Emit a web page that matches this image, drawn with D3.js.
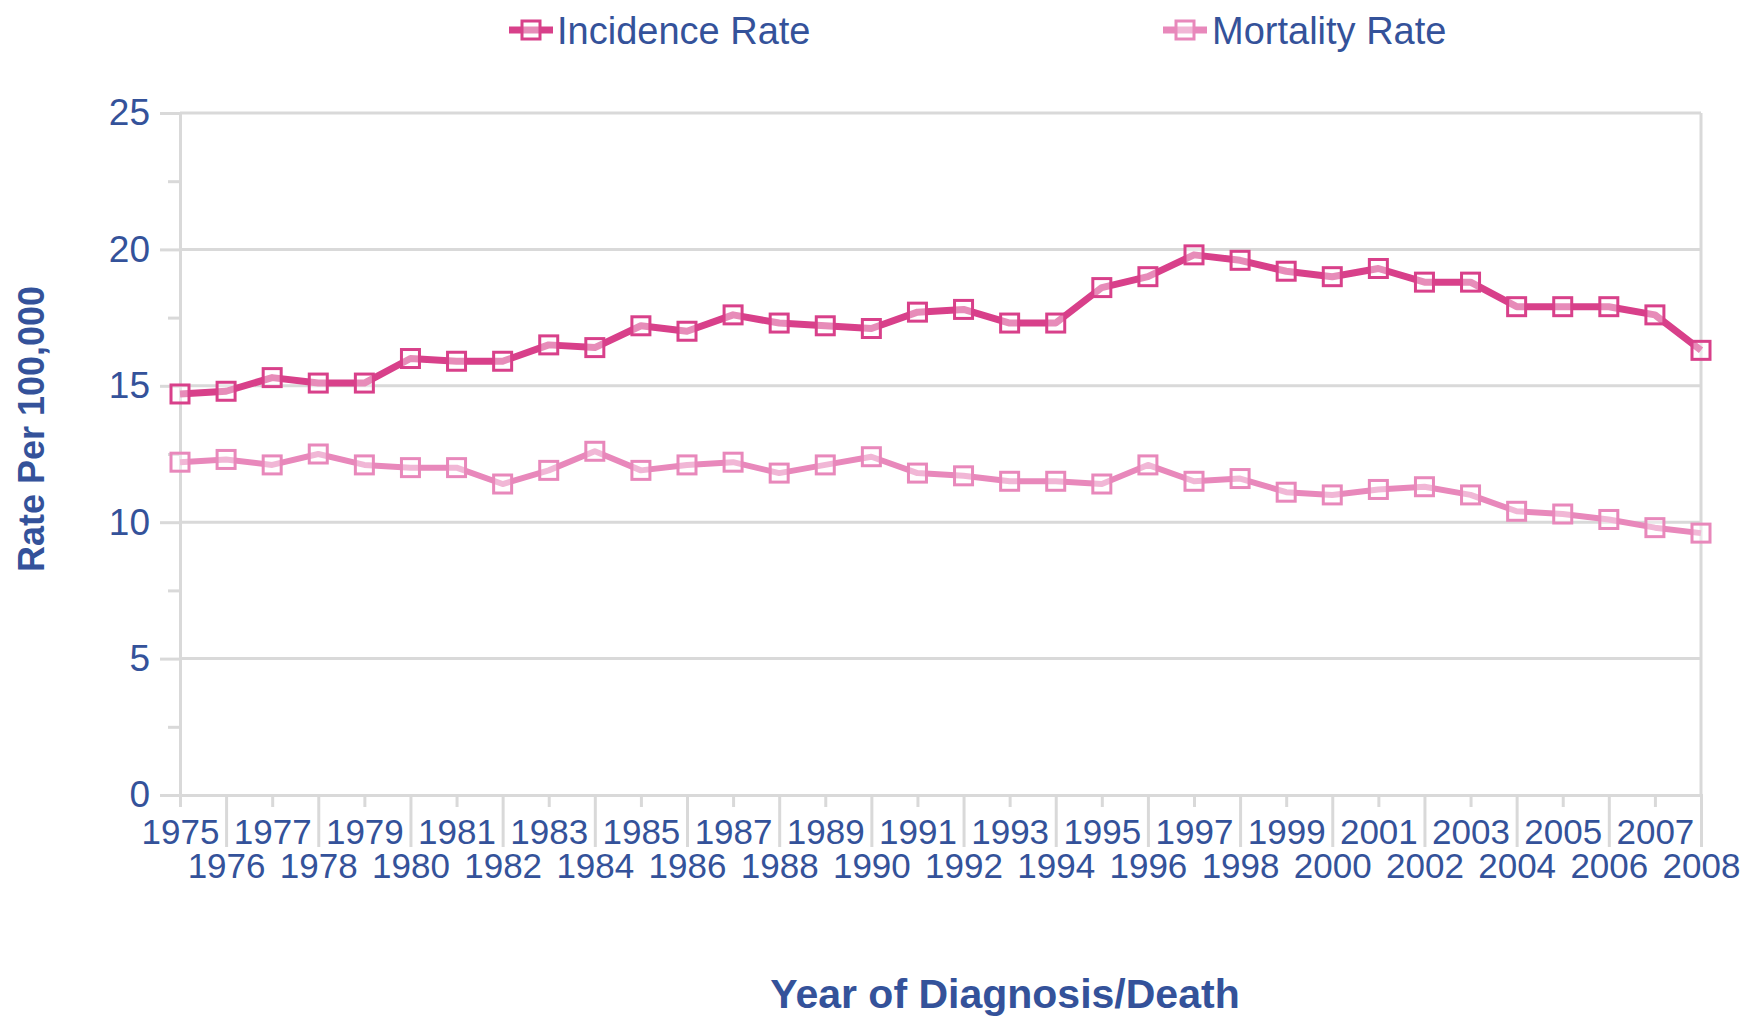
<!DOCTYPE html>
<html>
<head>
<meta charset="utf-8">
<script src="https://cdn.jsdelivr.net/npm/d3@7"></script>
<style>
  html, body { margin: 0; padding: 0; background: #fff; }
  svg { display: block; font-family: "Liberation Sans", Arial, sans-serif; }
</style>
</head>
<body>
<svg id="chart" width="1743" height="1016"></svg>
<script>
const years = [1975,1976,1977,1978,1979,1980,1981,1982,1983,1984,1985,1986,1987,1988,1989,1990,1991,1992,1993,1994,1995,1996,1997,1998,1999,2000,2001,2002,2003,2004,2005,2006,2007,2008];
const incidence = [14.7,14.8,15.3,15.1,15.1,16.0,15.9,15.9,16.5,16.4,17.2,17.0,17.6,17.3,17.2,17.1,17.7,17.8,17.3,17.3,18.6,19.0,19.8,19.6,19.2,19.0,19.3,18.8,18.8,17.9,17.9,17.9,17.6,16.3];
const mortality = [12.2,12.3,12.1,12.5,12.1,12.0,12.0,11.4,11.9,12.6,11.9,12.1,12.2,11.8,12.1,12.4,11.8,11.7,11.5,11.5,11.4,12.1,11.5,11.6,11.1,11.0,11.2,11.3,11.0,10.4,10.3,10.1,9.8,9.6];
const yTicks = [0,5,10,15,20,25];
const yMinorTicks = [2.5,7.5,12.5,17.5,22.5];
const seriesNames = ["Incidence Rate","Mortality Rate"];

const textColor = "#34529a";
const gridColor = "#d9d9d9";
const colors = ["#d8408a", "#e888bb"];

const L = 180, R = 1701, T = 113, B = 795;
const svg = d3.select("#chart");

const x = d3.scalePoint().domain(years).range([L, R]);
const y = d3.scaleLinear().domain([0, 25]).range([B, T]);

// gridlines
svg.append("g").selectAll("line").data(yTicks.filter(d => d > 0)).join("line")
  .attr("x1", L).attr("x2", R)
  .attr("y1", d => y(d)).attr("y2", d => y(d))
  .attr("stroke", gridColor).attr("stroke-width", 3);

// right border
svg.append("line").attr("x1", R).attr("x2", R).attr("y1", T).attr("y2", B)
  .attr("stroke", gridColor).attr("stroke-width", 3);

// y axis
const yAxis = svg.append("g").attr("transform", `translate(${L},0)`)
  .call(d3.axisLeft(y).tickValues(yTicks).tickSize(20).tickPadding(10).tickFormat(d3.format("d")));
yAxis.select(".domain").attr("stroke", gridColor).attr("stroke-width", 3);
yAxis.selectAll(".tick line").attr("stroke", gridColor).attr("stroke-width", 3);
yAxis.selectAll(".tick text").attr("fill", textColor).attr("font-size", 37)
  .attr("font-family", "Liberation Sans, Arial, sans-serif");

// minor ticks
svg.append("g").attr("transform", `translate(${L},0)`)
  .call(d3.axisLeft(y).tickValues(yMinorTicks).tickSize(12).tickFormat(""))
  .call(g => g.select(".domain").remove())
  .selectAll(".tick line").attr("stroke", gridColor).attr("stroke-width", 3);

// x axis
const xAxis = svg.append("g").attr("transform", `translate(0,${B})`)
  .call(d3.axisBottom(x).tickSize(12).tickPadding(6));
xAxis.select(".domain").attr("stroke", gridColor).attr("stroke-width", 3);
xAxis.selectAll(".tick line")
  .attr("stroke", gridColor).attr("stroke-width", 3)
  .attr("y2", (d, i) => (i % 2 === 1 || i === years.length - 1) ? 52 : 12);
xAxis.selectAll(".tick text")
  .attr("fill", textColor).attr("font-size", 35)
  .attr("font-family", "Liberation Sans, Arial, sans-serif")
  .attr("dy", null)
  .attr("y", (d, i) => i % 2 === 0 ? 49 : 83);

// lines and markers
const seriesData = [incidence, mortality];
const line = d3.line().x((d, i) => x(years[i])).y(d => y(d));
seriesData.forEach((vals, s) => {
  const g = svg.append("g");
  g.append("path").datum(vals)
    .attr("fill", "none").attr("stroke", colors[s])
    .attr("stroke-width", s === 0 ? 7 : 6)
    .attr("stroke-linejoin", "round")
    .attr("d", line);
  g.selectAll("rect").data(vals).join("rect")
    .attr("x", (d, i) => x(years[i]) - 9).attr("y", d => y(d) - 9)
    .attr("width", 18).attr("height", 18)
    .attr("fill", "#ffffff").attr("fill-opacity", 0.4)
    .attr("stroke", colors[s]).attr("stroke-width", 3);
});

// legend
const legendItems = [{x: 509, tx: 557}, {x: 1163, tx: 1212}];
legendItems.forEach((it, s) => {
  const g = svg.append("g");
  g.append("line").attr("x1", it.x).attr("x2", it.x + 44).attr("y1", 30).attr("y2", 30)
    .attr("stroke", colors[s]).attr("stroke-width", 7);
  g.append("rect").attr("x", it.x + 13).attr("y", 21).attr("width", 18).attr("height", 18)
    .attr("fill", "#ffffff").attr("fill-opacity", 0.4)
    .attr("stroke", colors[s]).attr("stroke-width", 3);
  g.append("text").attr("x", it.tx).attr("y", 44)
    .attr("fill", textColor).attr("font-size", 38)
    .text(seriesNames[s]);
});

// axis titles
svg.append("text")
  .attr("transform", "translate(44,429) rotate(-90)")
  .attr("text-anchor", "middle")
  .attr("fill", textColor).attr("font-size", 36).attr("font-weight", "bold")
  .text("Rate Per 100,000");

svg.append("text")
  .attr("x", 1005).attr("y", 1008)
  .attr("text-anchor", "middle")
  .attr("fill", textColor).attr("font-size", 41).attr("font-weight", "bold")
  .text("Year of Diagnosis/Death");
</script>
</body>
</html>
